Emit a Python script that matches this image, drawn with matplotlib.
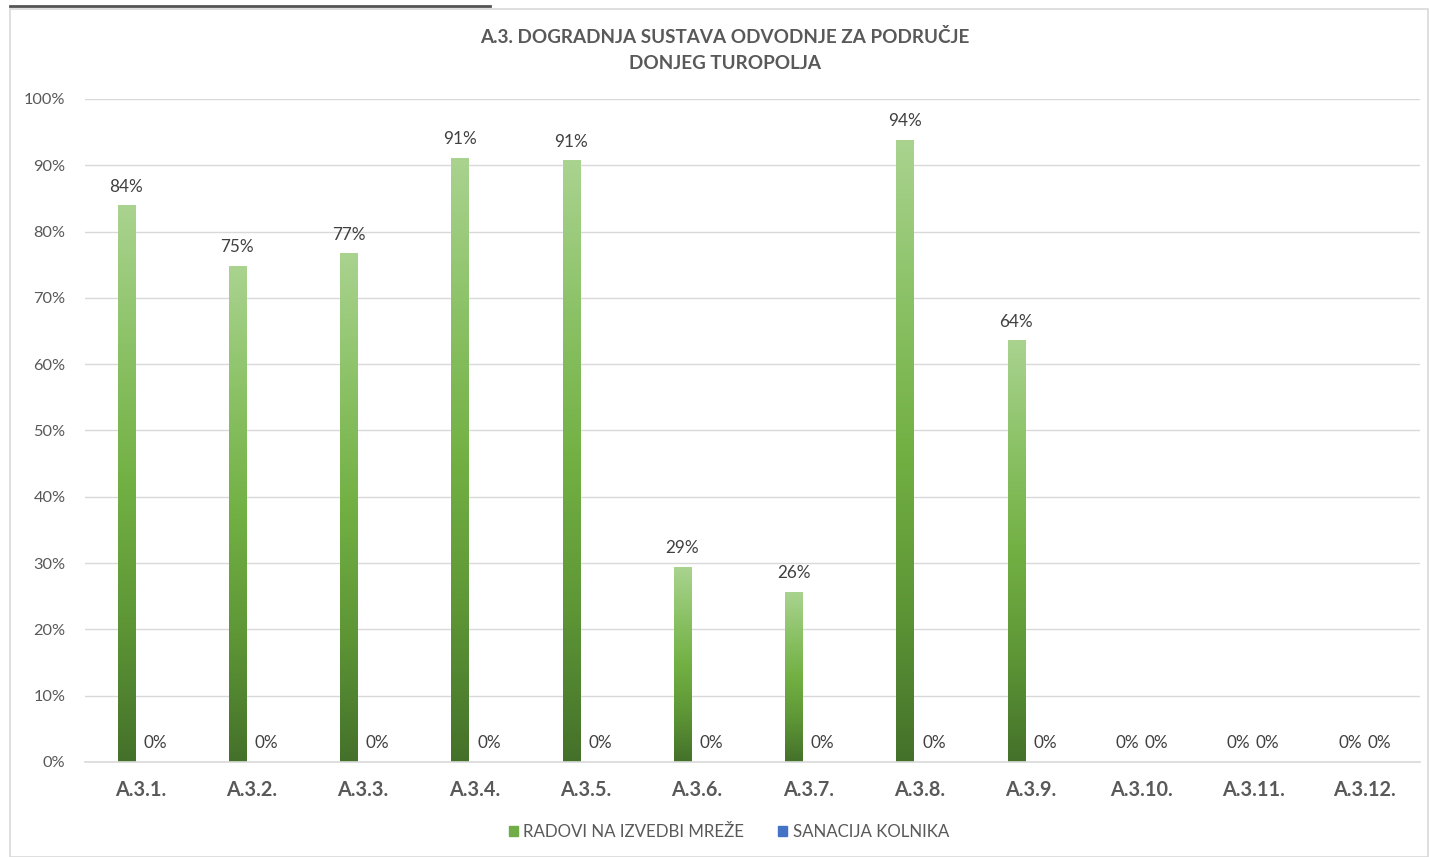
import matplotlib.pyplot as plt
import matplotlib.patches as mpatches
from matplotlib.colors import LinearSegmentedColormap
import numpy as np

plt.rcParams['font.family'] = ['Lato', 'DejaVu Sans']

categories = ["A.3.1.", "A.3.2.", "A.3.3.", "A.3.4.", "A.3.5.", "A.3.6.",
              "A.3.7.", "A.3.8.", "A.3.9.", "A.3.10.", "A.3.11.", "A.3.12."]
radovi = [0.839, 0.748, 0.767, 0.911, 0.907, 0.294, 0.256, 0.938, 0.636, 0, 0, 0]
sanacija = [0, 0, 0, 0, 0, 0, 0, 0, 0, 0, 0, 0]
series_names = ["RADOVI NA IZVEDBI MREŽE", "SANACIJA KOLNIKA"]

GREEN = "#70ad47"
BLUE = "#4472c4"
TXT = "#595959"

fig = plt.figure(figsize=(14.29, 8.57), dpi=100)
ax = fig.add_axes([0.0595, 0.1109, 0.9342, 0.7736])

# chart frame and the cut-off line above it
fig.patches.append(mpatches.Rectangle((10 / 1429, 0), 1418 / 1429, 1 - 9 / 857,
                                      transform=fig.transFigure, fill=False,
                                      edgecolor="#d9d9d9", lw=1.2))
fig.add_artist(plt.Line2D([10 / 1429, 490 / 1429], [1 - 6 / 857, 1 - 6 / 857],
                          transform=fig.transFigure, color="#555555", lw=2))

x = np.arange(len(categories))
w = 0.153
off = 0.13

grad_cmap = LinearSegmentedColormap.from_list(
    "g", ["#44712a", "#5e9636", "#72b043", "#8cc267", "#a9d38f"])
grad = np.linspace(0, 1, 256).reshape(-1, 1)

bars_g = ax.bar(x - off, radovi, w, color="none", edgecolor="none", zorder=2)
bars_b = ax.bar(x + off, sanacija, w, color=BLUE, zorder=2)

for b in bars_g:
    h = b.get_height()
    if h > 0:
        x0 = b.get_x()
        ax.imshow(grad, extent=[x0, x0 + b.get_width(), 0, h], origin="lower",
                  cmap=grad_cmap, aspect="auto", zorder=2)

for bars in (bars_g, bars_b):
    for b in bars:
        h = b.get_height()
        ax.annotate(f"{h * 100:.0f}%", (b.get_x() + b.get_width() / 2, h),
                    xytext=(0, 13.5), textcoords="offset points",
                    ha="center", va="center", fontsize=12.3, color="#404040")

ax.set_xlim(-0.5, len(categories) - 0.5)
ax.set_ylim(0, 1)
ax.set_yticks(np.arange(0, 1.01, 0.1))
ax.set_yticklabels([f"{int(round(v * 100))}%" for v in np.arange(0, 1.01, 0.1)])
ax.set_xticks(x)
ax.set_xticklabels(categories, fontweight="bold")
ax.tick_params(axis="x", length=0, pad=13, labelsize=14.3, labelcolor=TXT)
ax.tick_params(axis="y", length=0, pad=14, labelsize=11.8, labelcolor=TXT)
ax.yaxis.grid(True, color="#d9d9d9", lw=1)
ax.set_axisbelow(True)
for s in ["top", "right", "left"]:
    ax.spines[s].set_visible(False)
ax.spines["bottom"].set_color("#d9d9d9")
ax.spines["bottom"].set_linewidth(1.2)

fig.text(0.507, 0.942, "A.3. DOGRADNJA SUSTAVA ODVODNJE ZA PODRUČJE\nDONJEG TUROPOLJA",
         ha="center", va="center", fontsize=13.6, fontweight="bold", color=TXT,
         linespacing=1.65)

handles = [mpatches.Patch(color=GREEN), mpatches.Patch(color=BLUE)]
fig.legend(handles, series_names, loc="center", bbox_to_anchor=(0.51, 0.029),
           ncol=2, frameon=False, fontsize=12.2, handlelength=0.55, handleheight=0.55,
           handletextpad=0.3, columnspacing=2.0, labelcolor=TXT)

fig.savefig("out.png", dpi=100)
